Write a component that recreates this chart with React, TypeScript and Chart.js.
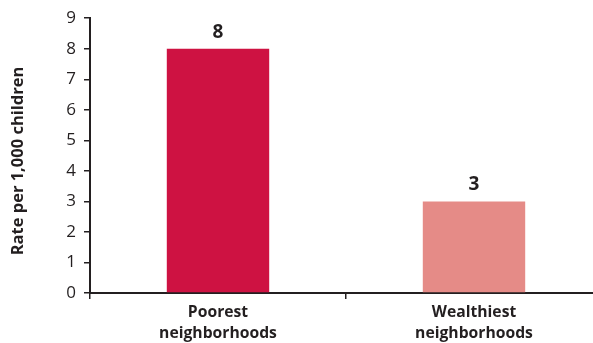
import React, { useEffect, useRef } from "react";
import { Chart, registerables } from "chart.js";

Chart.register(...registerables);

const categories: string[][] = [
  ["Poorest", "neighborhoods"],
  ["Wealthiest", "neighborhoods"],
];
const values: number[] = [8, 3];
const barColors: string[] = ["#CE1242", "#E58B87"];
const yAxisTitle = "Rate per 1,000 children";
const yMin = 0;
const yMax = 9;
const yStep = 1;

const FONT = "'Open Sans'";
const INK = "#231F20";

const valueLabels = {
  id: "valueLabels",
  afterDatasetsDraw(chart: any) {
    const ctx = chart.ctx;
    const meta = chart.getDatasetMeta(0);
    ctx.save();
    ctx.font = `bold 19px ${FONT}`;
    ctx.fillStyle = INK;
    ctx.textAlign = "center";
    ctx.textBaseline = "alphabetic";
    meta.data.forEach((bar: any, i: number) => {
      ctx.fillText(String(values[i]), bar.x, bar.y - 11);
    });
    ctx.restore();
  },
};

const yTitle = {
  id: "yTitle",
  afterDraw(chart: any) {
    const ctx = chart.ctx;
    ctx.save();
    ctx.font = `bold 16.5px ${FONT}`;
    ctx.fillStyle = INK;
    ctx.textAlign = "center";
    ctx.textBaseline = "middle";
    ctx.translate(18, 161);
    ctx.rotate(-Math.PI / 2);
    ctx.fillText(yAxisTitle, 0, 0);
    ctx.restore();
  },
};

export default function App() {
  const ref = useRef<HTMLCanvasElement>(null);

  useEffect(() => {
    if (!ref.current) return;
    const chart = new Chart(ref.current, {
      type: "bar",
      data: {
        labels: categories as any,
        datasets: [
          {
            data: values,
            backgroundColor: barColors,
            borderWidth: 0,
            barPercentage: 0.4,
            categoryPercentage: 1,
          },
        ],
      },
      options: {
        responsive: false,
        maintainAspectRatio: false,
        animation: false,
        layout: { padding: { left: 0, right: 8, top: 15, bottom: 0 } },
        plugins: {
          legend: { display: false },
          tooltip: { enabled: false },
        },
        scales: {
          x: {
            grid: {
              offset: true,
              drawOnChartArea: false,
              drawTicks: true,
              tickLength: 6,
              color: INK,
              lineWidth: 1.5,
            },
            border: { color: INK, width: 2 },
            ticks: {
              color: INK,
              font: { family: FONT, size: 15.7, weight: "bold", lineHeight: 1.35 },
              padding: 3,
              maxRotation: 0,
              autoSkip: false,
            },
            afterFit: (s: any) => {
              s.height = 50;
            },
          },
          y: {
            min: yMin,
            max: yMax,
            ticks: {
              stepSize: yStep,
              color: INK,
              font: { family: FONT, size: 17 },
              padding: 8,
            },
            grid: {
              drawOnChartArea: false,
              drawTicks: true,
              tickLength: 6,
              color: INK,
              lineWidth: 1.5,
            },
            border: { color: INK, width: 2 },
            title: { display: false, text: yAxisTitle },
            afterFit: (s: any) => {
              s.width = 90;
            },
          },
        },
      },
      plugins: [valueLabels, yTitle],
    });
    return () => chart.destroy();
  }, []);

  return (
    <div
      style={{
        position: "fixed",
        left: 0,
        top: 0,
        width: 593,
        height: 343,
        overflow: "hidden",
        background: "#fff",
      }}
    >
      <canvas ref={ref} width={610} height={343} style={{ display: "block" }} />
    </div>
  );
}
